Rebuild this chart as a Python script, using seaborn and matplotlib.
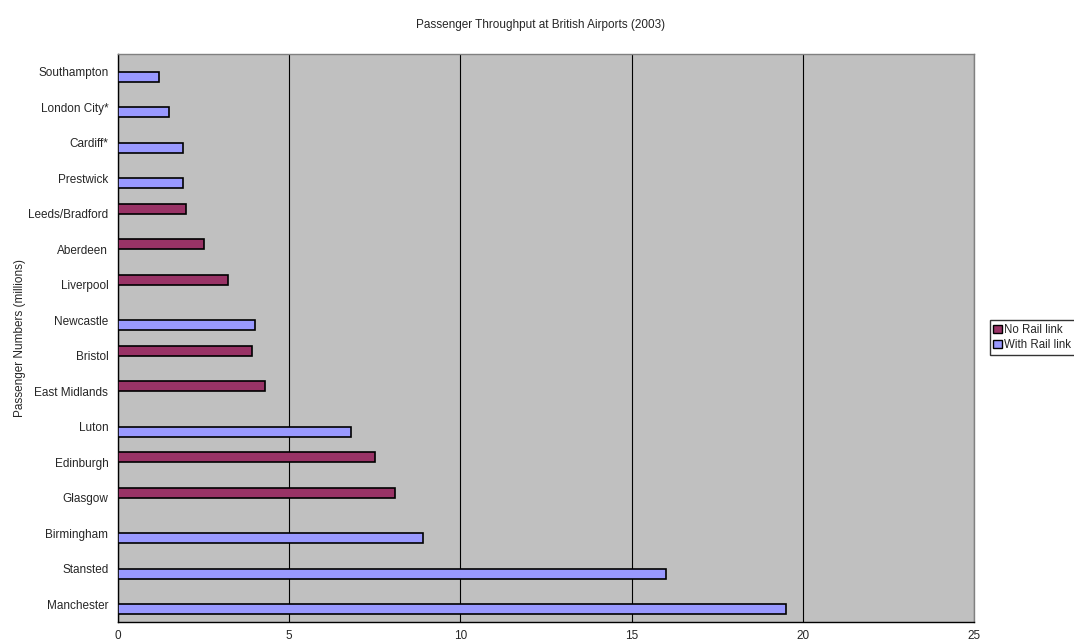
import matplotlib
matplotlib.use("Agg")
import matplotlib.pyplot as plt
import seaborn as sns
import pandas as pd
from matplotlib.patches import Patch

airports = ["Southampton", "London City*", "Cardiff*", "Prestwick", "Leeds/Bradford",
            "Aberdeen", "Liverpool", "Newcastle", "Bristol", "East Midlands",
            "Luton", "Edinburgh", "Glasgow", "Birmingham", "Stansted", "Manchester"]
passengers = [1.2, 1.5, 1.9, 1.9, 2.0, 2.5, 3.2, 4.0, 3.9, 4.3,
              6.8, 7.5, 8.1, 8.9, 16.0, 19.5]
rail = ["With Rail link", "With Rail link", "With Rail link", "With Rail link", "No Rail link",
        "No Rail link", "No Rail link", "With Rail link", "No Rail link", "No Rail link",
        "With Rail link", "No Rail link", "No Rail link", "With Rail link", "With Rail link",
        "With Rail link"]
series = ["No Rail link", "With Rail link"]
colors = ["#993366", "#9999FF"]
x_ticks = [0, 5, 10, 15, 20, 25]

df = pd.DataFrame({"Airport": airports, "Passengers": passengers, "Rail": rail})

sns.set_style("white")
plt.rcParams["font.family"] = ["Liberation Sans", "DejaVu Sans"]
plt.rcParams["font.size"] = 8.5

fig = plt.figure(figsize=(10.74, 6.42), dpi=100)
ax = fig.add_axes([118/1074, 1-622/642, (974-118)/1074, (622-54)/642])
ax.set_facecolor("#C0C0C0")

sns.barplot(data=df, y="Airport", x="Passengers", hue="Rail", order=airports,
            hue_order=series, palette=colors, orient="h", width=0.56, dodge=True,
            saturation=1, edgecolor="black", linewidth=1.2, ax=ax, legend=False,
            zorder=3)

ax.set_xlim(0, 25)
ax.set_ylim(len(airports)-0.5, -0.5)
ax.set_xticks(x_ticks)
ax.set_xticklabels([str(t) for t in x_ticks], fontsize=8.5)
ax.xaxis.grid(True, color="black", linewidth=0.8, zorder=0)
ax.set_axisbelow(True)

ax.set_yticks(range(len(airports)))
ax.set_yticklabels(airports, fontsize=8.5)
ax.tick_params(axis="y", which="major", length=0, pad=7)
ax.set_yticks([i - 0.5 for i in range(len(airports)+1)], minor=True)
ax.tick_params(axis="y", which="minor", length=4, width=1, direction="out", color="black")
ax.tick_params(axis="x", which="major", length=4, width=1, direction="out", color="black", pad=2)

ax.set_xlabel("")
ax.set_ylabel("")
for s in ["left", "bottom"]:
    ax.spines[s].set_color("black")
    ax.spines[s].set_linewidth(1)
for s in ["top", "right"]:
    ax.spines[s].set_color("#808080")
    ax.spines[s].set_linewidth(1)

fig.text(20/1074, 1-338/642, "Passenger Numbers (millions)", rotation=90,
         ha="center", va="center", fontsize=8.5)
fig.text(541/1074, 1-25/642, "Passenger Throughput at British Airports (2003)",
         ha="center", va="center", fontsize=8.5)

handles = [Patch(facecolor=c, edgecolor="black", linewidth=1) for c in colors]
fig.legend(handles, series, loc="center left", bbox_to_anchor=(990/1074, 1-337.5/642),
           frameon=True, fancybox=False, edgecolor="black", fontsize=8.3,
           handlelength=0.7, handleheight=0.7, handletextpad=0.25,
           borderpad=0.3, labelspacing=0.3, borderaxespad=0)

fig.savefig("out.png", dpi=100)
